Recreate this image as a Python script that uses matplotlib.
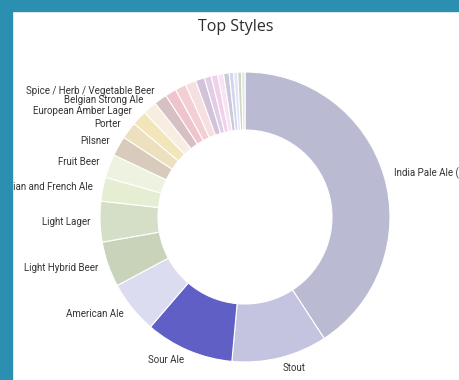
import numpy as np
import matplotlib.pyplot as plt
from matplotlib.patches import Rectangle

# Top styles, share of beers (descending), unlabeled slices have no visible label
styles = ['India Pale Ale (IPA)', 'Stout', 'Sour Ale', 'American Ale', 'Light Hybrid Beer',
          'Light Lager', 'Belgian and French Ale', 'Fruit Beer', 'Pilsner', 'Porter',
          'European Amber Lager', 'Belgian Strong Ale', 'Spice / Herb / Vegetable Beer',
          '', '', '', '', '', '', '', '', '', '', '', '']
shares = [146.9, 38.3, 35.5, 21.1, 18.2, 16.3, 9.6, 9.4, 8.0, 6.8, 6.0, 5.6, 5.2,
          4.5, 4.4, 4.3, 3.6, 2.8, 2.6, 2.4, 2.2, 1.8, 1.6, 1.5, 1.4]
colors = ['#babbd2', '#c4c4e0', '#5f5fc6', '#dcdcf1', '#c8d3b9', '#d5dec6', '#e5eed2',
          '#edf3e0', '#d9cbbb', '#ece0bf', '#f3e5ba', '#f7ede0', '#d6c0c4', '#eec5cc',
          '#f3cfd4', '#f6dfe1', '#d3c3d9', '#e2cde8', '#f1d0ea', '#f7e3f3', '#c9c9d8',
          '#d4d4ee', '#e0e4f6', '#ccd5c8', '#e4e8dc']

plt.rcParams['font.family'] = ['Roboto', 'DejaVu Sans']

fig = plt.figure(figsize=(4.6, 3.8), dpi=100)
fig.patch.set_facecolor('white')
ax = fig.add_axes([0, 0, 1, 1])

wedges, _ = ax.pie(shares, colors=colors, startangle=90, counterclock=False, radius=1,
                   wedgeprops=dict(width=0.4, edgecolor='white', linewidth=0.8))

# Outside labels at wedge midpoints
for w, name in zip(wedges, styles):
    if not name:
        continue
    mid = np.deg2rad((w.theta1 + w.theta2) / 2)
    x, y = 1.07 * np.cos(mid), 1.07 * np.sin(mid)
    ax.text(x, y, name, ha='left' if x > 0 else 'right', va='center',
            fontsize=7, color='#333333')

ax.set_xlim(-245 / 145, 215 / 145)
ax.set_ylim(-163 / 145, 217 / 145)
ax.set_aspect('equal')
ax.axis('off')

fig.text(0.513, 1 - 27 / 380, 'Top Styles', ha='center', va='center',
         fontsize=11.5, color='#2e2e2e', family=['Open Sans', 'DejaVu Sans'])

# page background around the card
teal = '#2b8fb1'
fig.add_artist(Rectangle((0, 0), 12 / 460, 1, transform=fig.transFigure,
                         color=teal, zorder=10))
fig.add_artist(Rectangle((0, 1 - 11 / 380), 1, 11 / 380, transform=fig.transFigure,
                         color=teal, zorder=10))

fig.savefig('out.png', dpi=100)
